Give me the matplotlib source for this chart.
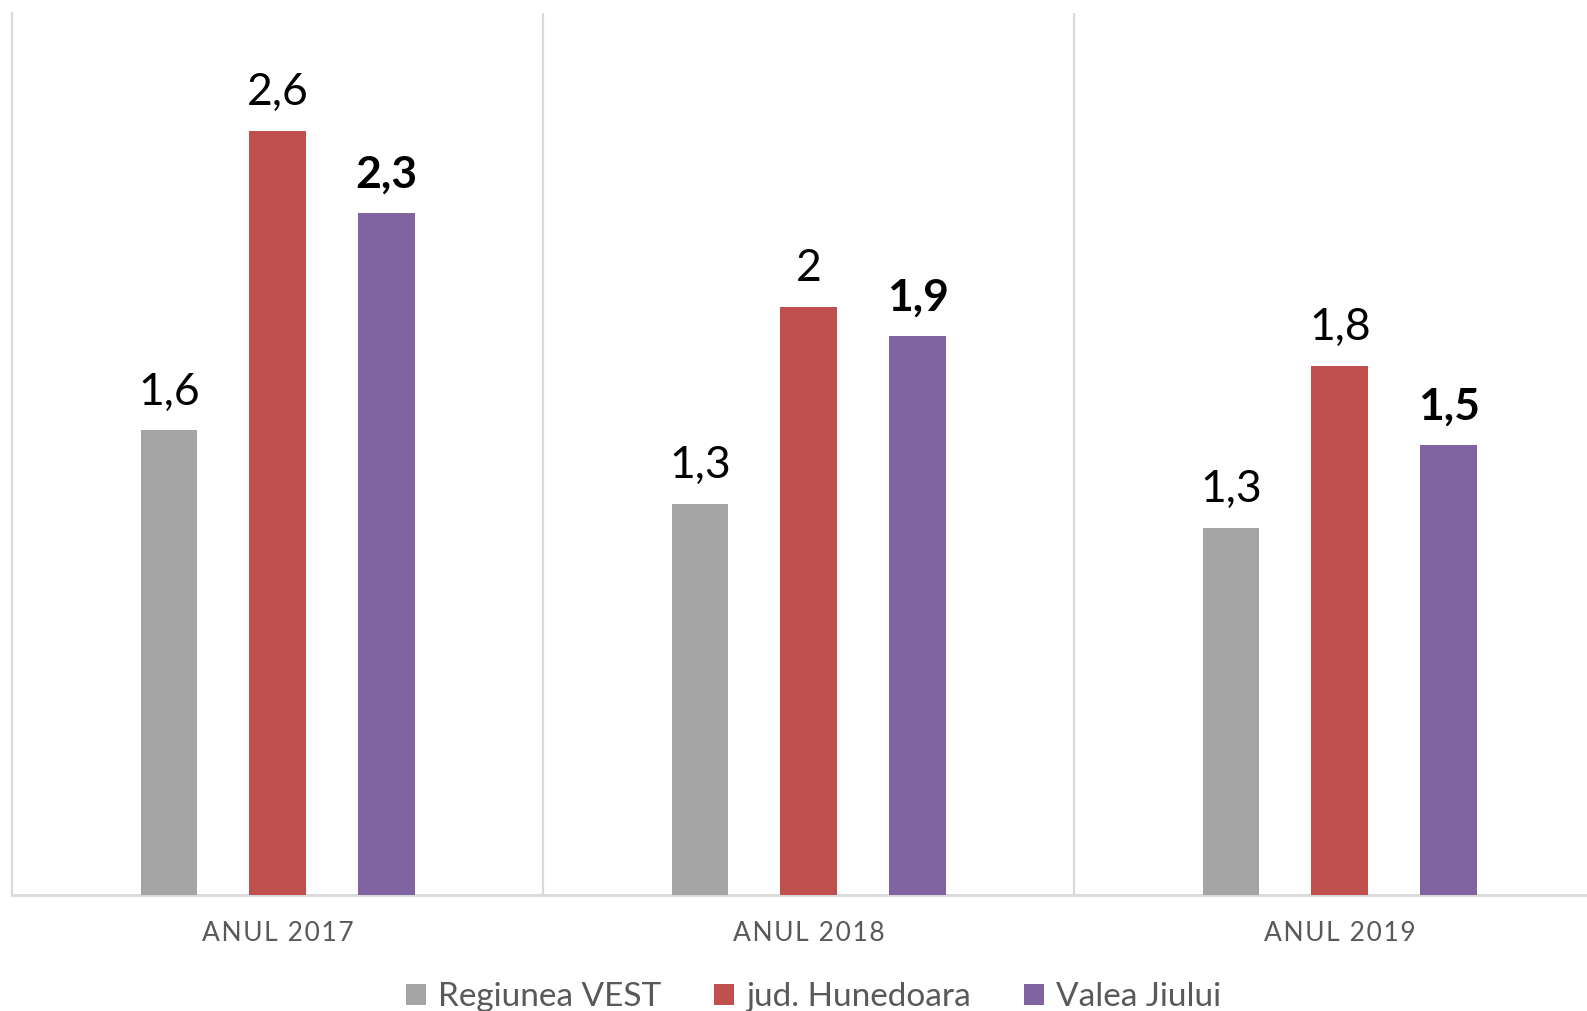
import matplotlib
matplotlib.use("Agg")
import matplotlib.pyplot as plt
from matplotlib.patches import Patch
import numpy as np

categories = ["ANUL 2017", "ANUL 2018", "ANUL 2019"]
series_names = ["Regiunea VEST", "jud. Hunedoara", "Valea Jiului"]
regiunea_vest = [1.58, 1.33, 1.25]
jud_hunedoara = [2.6, 2.0, 1.8]
valea_jiului = [2.32, 1.90, 1.53]
label_vest = ["1,6", "1,3", "1,3"]
label_hunedoara = ["2,6", "2", "1,8"]
label_valea = ["2,3", "1,9", "1,5"]

colors = ["#A5A5A5", "#C0504D", "#8064A2"]
series = [regiunea_vest, jud_hunedoara, valea_jiului]
labels = [label_vest, label_hunedoara, label_valea]
weights = ["normal", "normal", "bold"]
offsets = [-0.205, 0.0, 0.205]

plt.rcParams['font.family'] = ['Lato', 'DejaVu Sans']

W, H = 1587, 1011
fig = plt.figure(figsize=(W / 100, H / 100), dpi=100)
ax = fig.add_axes([12.3 / W, 1 - 895 / H, 1593 / W, (895 - 13) / H])

x = np.arange(len(categories))
bw = 0.1066
for vals, labs, col, wt, off in zip(series, labels, colors, weights, offsets):
    bars = ax.bar(x + off, vals, width=bw, color=col, zorder=3)
    for b, lab in zip(bars, labs):
        ax.annotate(lab, (b.get_x() + b.get_width() / 2, b.get_height()),
                    xytext=(0, 18.5), textcoords="offset points",
                    ha="center", va="baseline", fontsize=32,
                    fontweight=wt, color="black")


def tracked(s):
    return "\u200a".join(s)


ax.set_xlim(-0.5, 2.5)
ax.set_ylim(0, 3.0)
ax.set_yticks([])
ax.set_xticks(x)
ax.set_xticklabels([tracked(c) for c in categories], fontsize=19,
                   color="#595959")
ax.tick_params(axis="x", which="major", length=0, pad=19)
ax.set_xticks([0.5, 1.5], minor=True)
ax.tick_params(axis="x", which="minor", length=0)
ax.grid(which="minor", axis="x", color="#D9D9D9", linewidth=1.6, zorder=0)
ax.grid(which="major", visible=False)
for s in ["top", "right"]:
    ax.spines[s].set_visible(False)
ax.spines["left"].set_color("#D9D9D9")
ax.spines["left"].set_linewidth(1.6)
ax.spines["bottom"].set_color("#D9D9D9")
ax.spines["bottom"].set_linewidth(2.0)

handles = [Patch(facecolor=c, edgecolor="none") for c in colors]
leg = fig.legend(handles, series_names, loc="center", ncol=3,
                 bbox_to_anchor=(813.5 / W, 1 - 997 / H), frameon=False,
                 fontsize=24, handlelength=0.6, handleheight=0.58,
                 handletextpad=0.35, columnspacing=1.6, borderpad=0.1)
for t in leg.get_texts():
    t.set_color("#595959")

fig.savefig("out.png", dpi=100)
